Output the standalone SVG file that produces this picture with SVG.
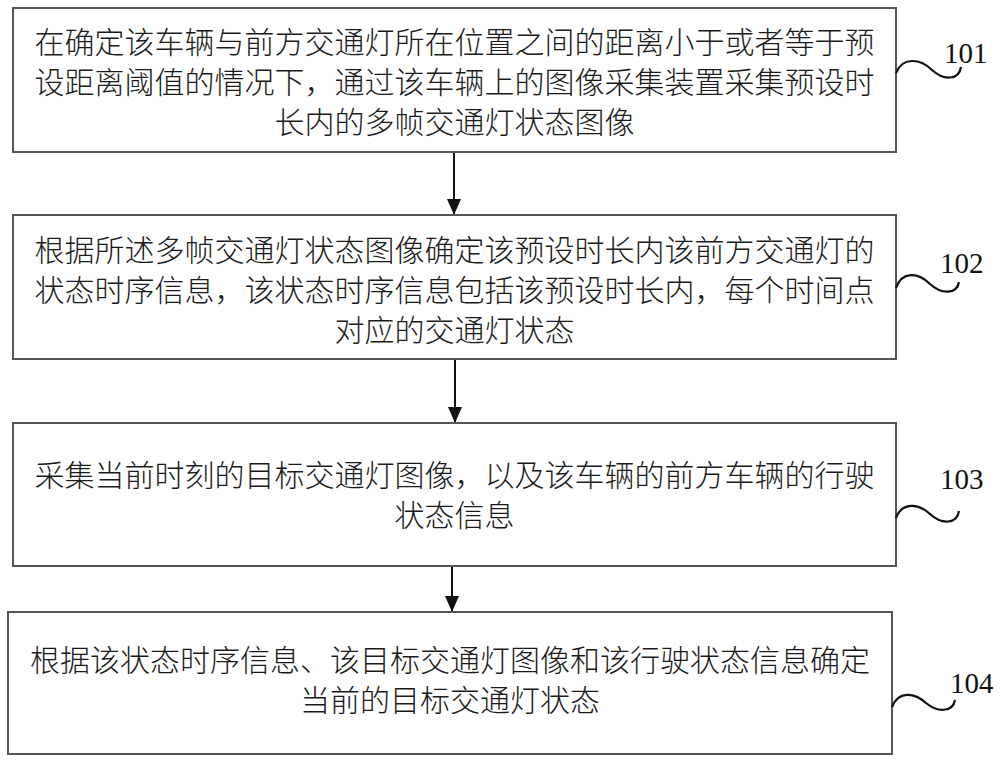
<svg xmlns="http://www.w3.org/2000/svg" width="1000" height="764" viewBox="0 0 1000 764">
<defs>
<style>
.box{fill:#fff;stroke:#555;stroke-width:2}
.t{font-family:"Noto Sans CJK SC","Noto Sans",sans-serif;font-size:30px;font-weight:300;fill:#1a1a1a;text-anchor:middle}
.n{font-family:"Liberation Serif",serif;font-size:29px;fill:#111}
.c{fill:none;stroke:#111;stroke-width:2.2}
.a{stroke:#111;stroke-width:2;fill:none}
</style>
<marker id="ah" markerWidth="16" markerHeight="18" refX="15" refY="8" orient="auto" markerUnits="userSpaceOnUse" viewBox="0 0 16 16">
<path d="M0,1 L16,8 L0,15 Z" fill="#111"/>
</marker>
</defs>
<rect width="1000" height="764" fill="#fff"/>
<g id="connectors">
<line class="a" x1="454" y1="152" x2="454" y2="214" marker-end="url(#ah)"/>
<line class="a" x1="455" y1="359" x2="455" y2="422" marker-end="url(#ah)"/>
<line class="a" x1="452" y1="566" x2="452" y2="611" marker-end="url(#ah)"/>
</g>
<g id="n101">
<rect class="box" x="13" y="8" width="883" height="144"/>
<text class="t" x="454.5" y="53">在确定该车辆与前方交通灯所在位置之间的距离小于或者等于预</text>
<text class="t" x="454.5" y="93">设距离阈值的情况下，通过该车辆上的图像采集装置采集预设时</text>
<text class="t" x="454.5" y="133">长内的多帧交通灯状态图像</text>
<path class="c" d="M896,73 C902,57 920,58 932,70 C944,81 959,80 961,67"/>
<text class="n" x="944" y="63">101</text>
</g>
<g id="n102">
<rect class="box" x="13" y="215" width="883" height="144"/>
<text class="t" x="454.5" y="261">根据所述多帧交通灯状态图像确定该预设时长内该前方交通灯的</text>
<text class="t" x="454.5" y="301">状态时序信息，该状态时序信息包括该预设时长内，每个时间点</text>
<text class="t" x="454.5" y="341">对应的交通灯状态</text>
<path class="c" d="M896,288 C902,271 918,272 930,284 C942,295 957,294 959,282"/>
<text class="n" x="940" y="273">102</text>
</g>
<g id="n103">
<rect class="box" x="13" y="423" width="883" height="143"/>
<text class="t" x="454.5" y="486">采集当前时刻的目标交通灯图像，以及该车辆的前方车辆的行驶</text>
<text class="t" x="454.5" y="526">状态信息</text>
<path class="c" d="M896,518 C902,502 918,503 930,514 C942,525 957,524 959,511"/>
<text class="n" x="940" y="489">103</text>
</g>
<g id="n104">
<rect class="box" x="8" y="612" width="884" height="142"/>
<text class="t" x="450" y="671">根据该状态时序信息、该目标交通灯图像和该行驶状态信息确定</text>
<text class="t" x="450" y="711">当前的目标交通灯状态</text>
<path class="c" d="M892,707 C898,691 914,692 926,703 C938,713 953,712 955,700"/>
<text class="n" x="950" y="693">104</text>
</g>
</svg>
